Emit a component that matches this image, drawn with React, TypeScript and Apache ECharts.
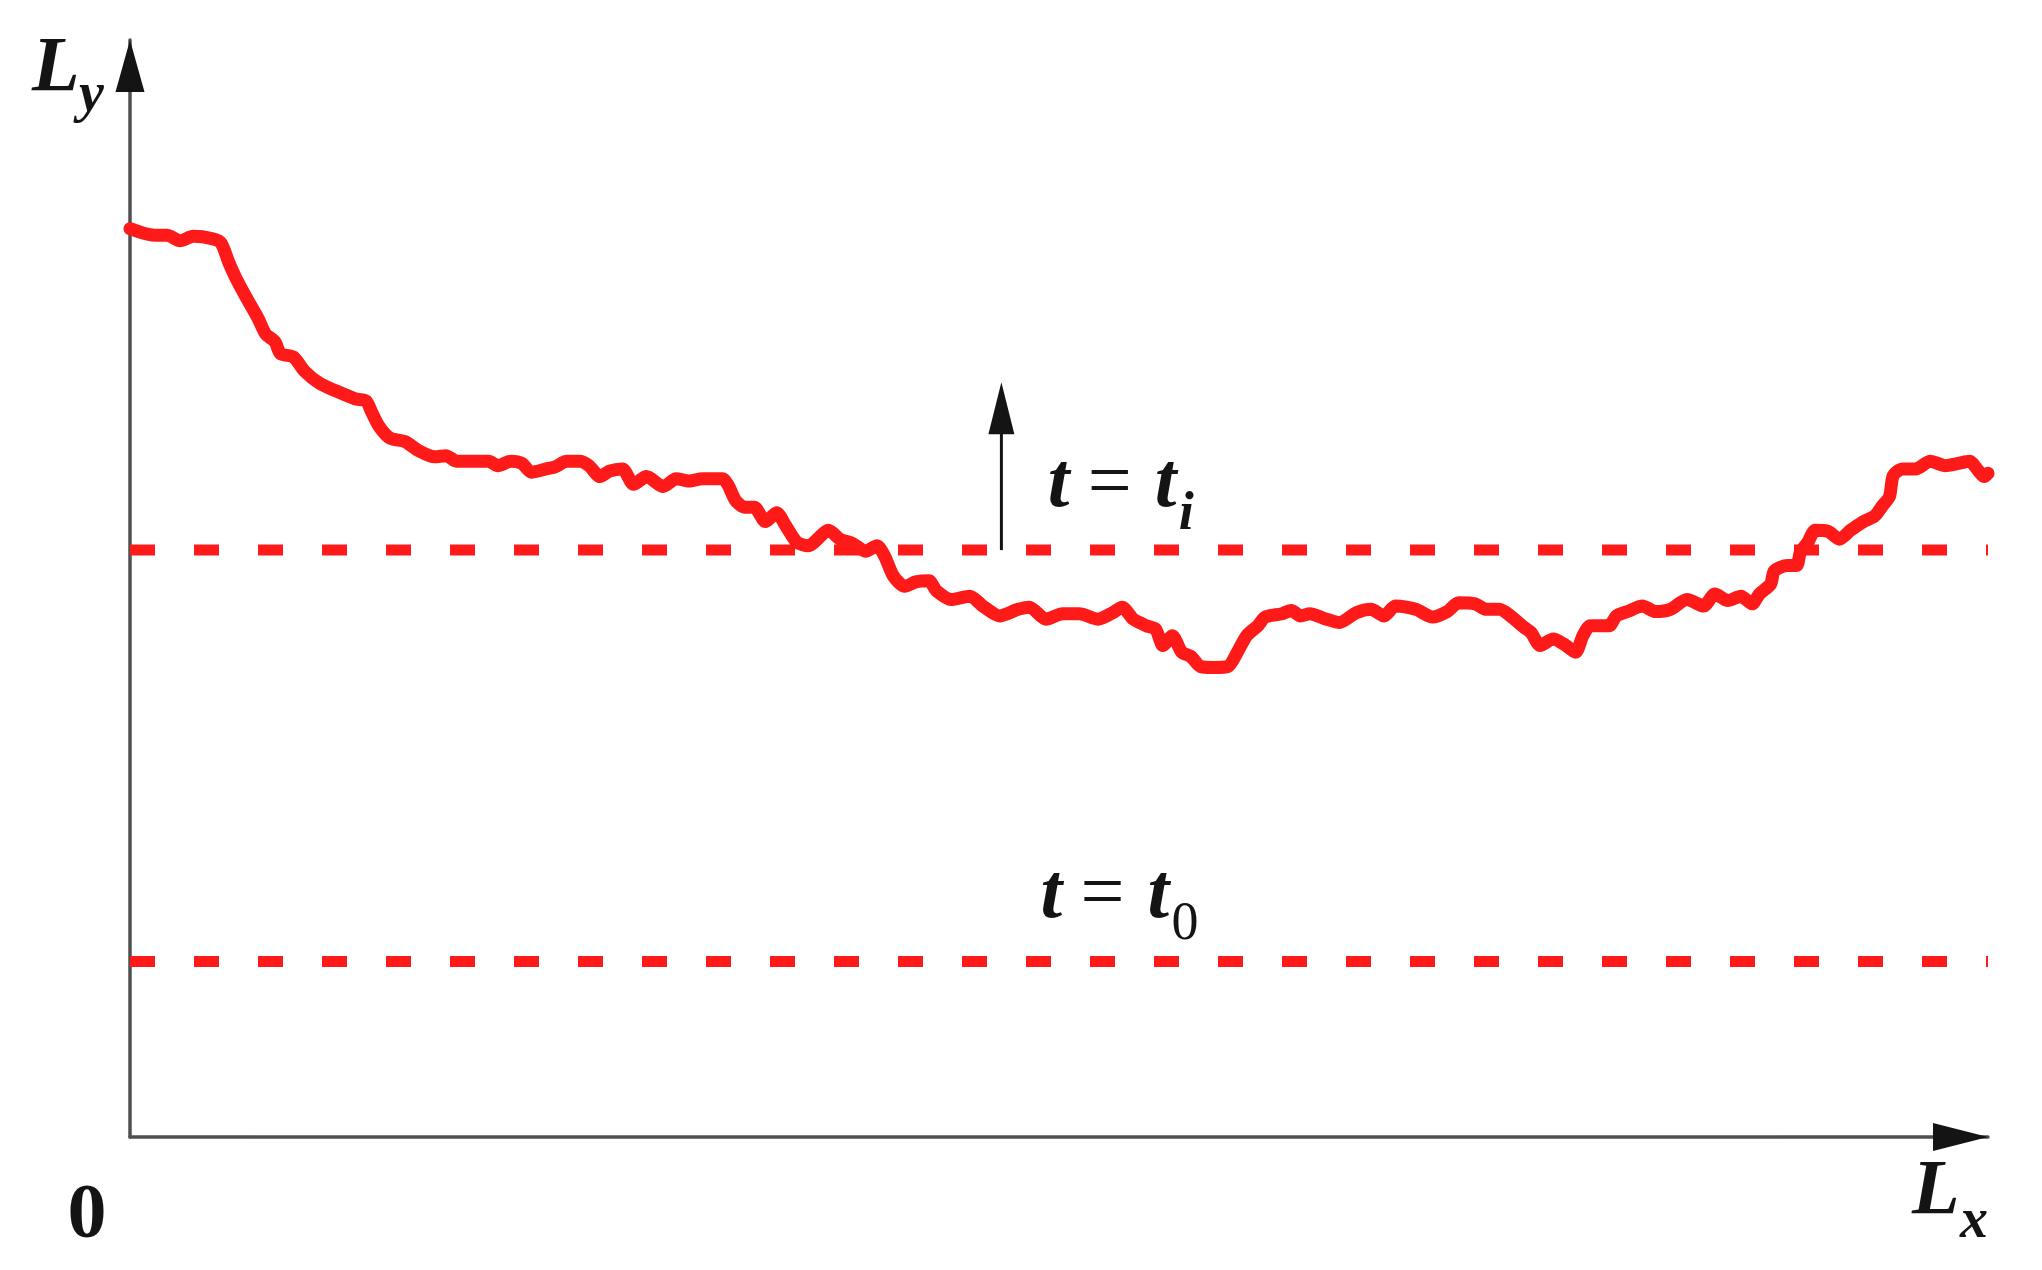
import React, { useEffect, useRef } from "react";
import * as echarts from "echarts";

// Horizontal position along L_x (0..100) and interface height L_y (0..100)
const lx = [0,1.3,2.0,2.7,3.4,4.4,4.9,5.3,5.7,6.3,6.9,7.3,7.8,8.1,8.8,9.4,10.2,11.1,12.1,12.7,13.0,13.4,14.0,14.8,15.5,16.4,17.0,17.6,18.4,19.3,19.8,20.5,21.1,21.6,22.4,22.9,23.5,24.2,24.7,25.3,25.8,26.5,27.1,27.8,28.7,29.4,30.1,30.8,31.9,32.2,32.6,33.1,33.6,34.2,34.8,35.3,35.9,36.5,37.6,38.2,38.9,39.6,40.2,40.6,41.1,41.7,42.3,43.0,43.4,44.2,45.2,45.9,46.8,47.8,48.4,49.3,50.2,51.1,52.1,52.9,53.4,54.0,54.7,55.2,55.6,56.1,56.6,57.1,57.6,58.3,59.1,59.6,60.1,60.7,61.1,62.0,62.5,63.0,63.5,64.4,65.1,66.0,66.8,67.5,68.1,69.2,70.1,70.9,71.5,72.4,73.0,73.7,74.3,75.0,75.4,75.9,76.6,77.2,77.8,78.2,78.6,79.6,80.0,80.6,81.4,82.1,82.9,83.8,84.7,85.3,86.0,86.7,87.3,87.7,88.3,88.5,89.2,89.7,89.9,90.3,90.7,91.4,92.0,92.6,93.3,93.9,94.3,94.7,94.9,95.4,96.1,96.9,97.7,98.4,99.0,99.5,99.8,100];
const ly = [82.8,82.2,82.2,81.7,82.1,81.9,81.5,79.8,78.3,76.4,74.6,73.2,72.5,71.4,71.1,69.8,68.7,68.0,67.3,67.1,66.1,64.8,63.7,63.4,62.6,62.0,62.1,61.6,61.6,61.6,61.2,61.6,61.4,60.6,60.9,61.1,61.6,61.6,61.2,60.2,60.7,60.9,59.5,60.2,59.3,60.0,59.8,60.0,60.0,59.4,58.0,57.4,57.4,56.1,56.9,55.7,54.2,53.9,55.3,54.5,54.1,53.4,53.9,53.0,51.1,50.2,50.6,50.7,49.8,49.0,49.3,48.4,47.5,48.1,48.3,47.2,47.7,47.7,47.2,47.8,48.3,47.2,46.6,46.3,44.8,45.7,44.2,43.8,42.9,42.8,42.9,44.2,45.7,46.6,47.4,47.7,48.0,47.5,47.7,47.2,46.9,47.8,48.1,47.5,48.4,48.1,47.4,47.9,48.7,48.6,48.1,48.1,47.5,46.5,46.0,44.8,45.4,44.9,44.2,45.7,46.6,46.6,47.5,47.9,48.4,47.9,48.1,49.0,48.4,49.5,48.9,49.3,48.6,49.5,50.4,51.6,52.1,52.1,53.3,54.2,55.3,55.2,54.5,55.3,56.1,56.6,57.5,58.4,60.3,60.9,60.9,61.6,61.2,61.4,61.6,60.7,60.2,60.5];

const xRange = [0, 100];
const yRange = [0, 100];
const tiLevel = 53.5; // dashed level t = t_i
const t0Level = 16.0; // dashed level t = t_0
const arrowX = 46.9;
const arrowTop = 68.8;
const tiLabelAnchor = [49.4, 57.5];
const t0LabelAnchor = [49.0, 20.1];

const RED = "#ff1a1a";
const AXIS = "#505050";
const INK = "#141414";
const FONT = '"Liberation Serif", "Times New Roman", serif';

function txt(text: string, x: number, baseline: number, fs: number, italic: boolean, bold: boolean, align = "left") {
  return {
    type: "text",
    x,
    y: baseline - 0.3375 * fs,
    silent: true,
    z: 10,
    style: {
      text,
      fill: INK,
      fontSize: fs,
      fontFamily: FONT,
      fontStyle: italic ? "italic" : "normal",
      fontWeight: bold ? "bold" : "normal",
      textAlign: align,
      textVerticalAlign: "middle",
      align,
      verticalAlign: "middle",
    },
  };
}

function tri(tip: number[], dir: "up" | "right", len: number, w: number) {
  const pts =
    dir === "up"
      ? [[tip[0], tip[1]], [tip[0] + w / 2, tip[1] + len], [tip[0] - w / 2, tip[1] + len]]
      : [[tip[0], tip[1]], [tip[0] - len, tip[1] - w / 2], [tip[0] - len, tip[1] + w / 2]];
  return { type: "polygon", silent: true, z: 9, shape: { points: pts }, style: { fill: INK } };
}

export default function App() {
  const ref = useRef<HTMLDivElement>(null);
  useEffect(() => {
    const chart = echarts.init(ref.current!, null, { renderer: "svg" });
    const curve = lx.map((x, i) => [x, ly[i]]);
    const axisCommon = {
      axisTick: { show: false },
      axisLabel: { show: false },
      splitLine: { show: false },
    };
    chart.setOption({
      animation: false,
      backgroundColor: "#ffffff",
      grid: { left: 130, right: 54, top: 40, bottom: 133, containLabel: false },
      xAxis: {
        type: "value",
        min: xRange[0],
        max: xRange[1],
        axisLine: { show: true, onZero: true, lineStyle: { color: AXIS, width: 3.5 } },
        ...axisCommon,
      },
      yAxis: {
        type: "value",
        min: yRange[0],
        max: yRange[1],
        axisLine: { show: true, onZero: true, lineStyle: { color: AXIS, width: 3.5 } },
        ...axisCommon,
      },
      series: [
        {
          type: "line",
          data: [[xRange[0], tiLevel], [xRange[1], tiLevel]],
          symbol: "none",
          silent: true,
          lineStyle: { color: RED, width: 11, type: [25, 39], cap: "butt" },
          z: 2,
        },
        {
          type: "line",
          data: [[xRange[0], t0Level], [xRange[1], t0Level]],
          symbol: "none",
          silent: true,
          lineStyle: { color: RED, width: 11, type: [25, 39], cap: "butt" },
          z: 2,
        },
        {
          type: "line",
          data: curve,
          symbol: "none",
          smooth: 0.25,
          silent: true,
          lineStyle: { color: RED, width: 13, cap: "round", join: "round" },
          z: 3,
        },
      ],
    });

    const px = (x: number, y: number) => chart.convertToPixel({ gridIndex: 0 }, [x, y]) as number[];
    const yTop = px(xRange[0], yRange[1]);
    const xEnd = px(xRange[1], yRange[0]);
    const origin = px(xRange[0], yRange[0]);
    const ti = px(tiLabelAnchor[0], tiLabelAnchor[1]);
    const t0 = px(t0LabelAnchor[0], t0LabelAnchor[1]);
    const aBase = px(arrowX, tiLevel);
    const aTip = px(arrowX, arrowTop);
    const headLen = 52;
    const headW = 26;

    const eqLabel = (a: number[], sub: string, subItalic: boolean) => [
      txt("t", a[0], a[1], 78, true, true),
      txt("=", a[0] + 40, a[1], 78, false, false),
      txt("t", a[0] + 107, a[1], 78, true, true),
      txt(sub, a[0] + 131, a[1] + 23, 54, subItalic, subItalic),
    ];

    chart.setOption({
      graphic: [
        tri(yTop, "up", 52, 29),
        tri(xEnd, "right", 55, 28),
        txt("L", yTop[0] - 98, yTop[1] + 50, 78, true, true),
        txt("y", yTop[0] - 51, yTop[1] + 71, 56, true, true),
        txt("L", xEnd[0] - 76, xEnd[1] + 76, 78, true, true),
        txt("x", xEnd[0] - 28, xEnd[1] + 100, 56, true, true),
        txt("0", origin[0] - 43, origin[1] + 100, 78, false, true, "center"),
        ...eqLabel(ti, "i", true),
        ...eqLabel(t0, "0", false),
        {
          type: "line",
          silent: true,
          z: 9,
          shape: { x1: aBase[0], y1: aBase[1], x2: aTip[0], y2: aTip[1] + headLen - 4 },
          style: { stroke: INK, lineWidth: 3 },
        },
        tri(aTip, "up", headLen, headW),
      ],
    });
    return () => chart.dispose();
  }, []);
  return (
    <div
      ref={ref}
      style={{ position: "absolute", left: 0, top: 0, width: 2042, height: 1270, background: "#fff" }}
    />
  );
}
